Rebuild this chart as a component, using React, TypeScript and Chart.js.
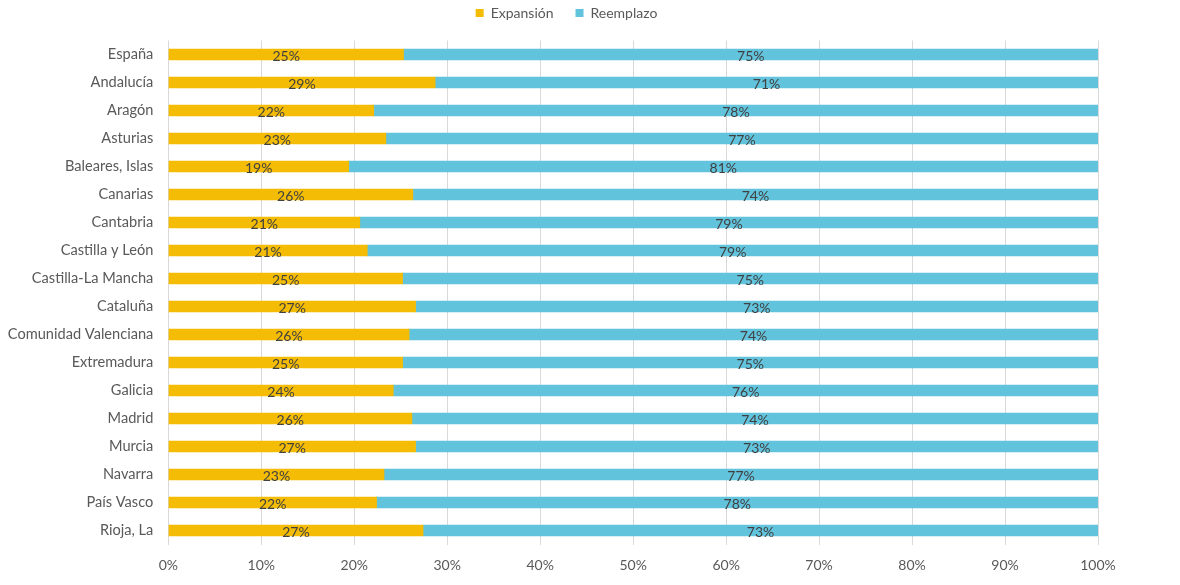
import React, { useEffect, useRef } from "react";
import { Chart, registerables } from "chart.js";

Chart.register(...registerables);

const categories = [
  "España",
  "Andalucía",
  "Aragón",
  "Asturias",
  "Baleares, Islas",
  "Canarias",
  "Cantabria",
  "Castilla y León",
  "Castilla-La Mancha",
  "Cataluña",
  "Comunidad Valenciana",
  "Extremadura",
  "Galicia",
  "Madrid",
  "Murcia",
  "Navarra",
  "País Vasco",
  "Rioja, La",
];

const expansion = [25.3, 28.7, 22.1, 23.4, 19.4, 26.3, 20.6, 21.4, 25.2, 26.6, 25.9, 25.2, 24.2, 26.2, 26.6, 23.2, 22.4, 27.4];
const reemplazo = [74.7, 71.3, 77.9, 76.6, 80.6, 73.7, 79.4, 78.6, 74.8, 73.4, 74.1, 74.8, 75.8, 73.8, 73.4, 76.8, 77.6, 72.6];

const seriesNames = ["Expansión", "Reemplazo"];
const xTicks = [0, 10, 20, 30, 40, 50, 60, 70, 80, 90, 100];

const FONT = "Lato";
const YELLOW = "#F4BC05";
const BLUE = "#62C3DD";

const legendSpacer = {
  id: "legendSpacer",
  beforeInit(chart: any) {
    const legend = chart.legend;
    if (!legend) return;
    const origFit = legend.fit;
    legend.fit = function () {
      origFit.call(this);
      this.height = 56.5;
    };
  },
  afterLayout(chart: any) {
    const legend = chart.legend;
    if (!legend) return;
    legend.left = 35;
    legend.width = legend.right - legend.left;
  },
};

const dataLabels = {
  id: "dataLabels",
  afterDatasetsDraw(chart: any) {
    const ctx = chart.ctx;
    ctx.save();
    ctx.font = `14px ${FONT}`;
    ctx.fillStyle = "#404040";
    ctx.textAlign = "center";
    ctx.textBaseline = "middle";
    chart.data.datasets.forEach((ds: any, di: number) => {
      const meta = chart.getDatasetMeta(di);
      meta.data.forEach((bar: any, i: number) => {
        const v = ds.data[i];
        const cx = (bar.x + bar.base) / 2;
        ctx.fillText(Math.round(v) + "%", cx, bar.y + 1.5);
      });
    });
    ctx.restore();
  },
};

export default function App() {
  const ref = useRef<HTMLCanvasElement | null>(null);

  useEffect(() => {
    if (!ref.current) return;
    const chart = new Chart(ref.current, {
      type: "bar",
      data: {
        labels: categories,
        datasets: [
          { label: seriesNames[0], data: expansion, backgroundColor: YELLOW, barThickness: 11 },
          { label: seriesNames[1], data: reemplazo, backgroundColor: BLUE, barThickness: 11 },
        ],
      },
      options: {
        indexAxis: "y",
        animation: false,
        responsive: true,
        maintainAspectRatio: false,
        devicePixelRatio: 1,
        layout: { padding: { top: -16, right: 82, bottom: 0, left: 0 } },
        plugins: {
          legend: {
            position: "top",
            align: "center",
            labels: {
              boxWidth: 8,
              boxHeight: 8,
              padding: 22,
              color: "#595959",
              font: { family: FONT, size: 14 },
            },
          },
          tooltip: { enabled: false },
        },
        scales: {
          x: {
            stacked: true,
            min: 0,
            max: 100,
            afterBuildTicks: (scale: any) => {
              scale.ticks = xTicks.map((v) => ({ value: v }));
            },
            afterFit: (scale: any) => {
              scale.height = 40.5;
            },
            ticks: {
              callback: (v: any) => v + "%",
              color: "#595959",
              font: { family: FONT, size: 14 },
              padding: 12.5,
              maxRotation: 0,
            },
            grid: { color: "#D9D9D9", lineWidth: 1, drawTicks: false },
            border: { display: false },
          },
          y: {
            stacked: true,
            afterFit: (scale: any) => {
              scale.width = 168.3;
            },
            ticks: {
              color: "#595959",
              font: { family: FONT, size: 14.6 },
              padding: 15,
              autoSkip: false,
            },
            grid: { display: false, drawTicks: false },
            border: { display: false },
          },
        },
      },
      plugins: [legendSpacer, dataLabels],
    });
    return () => chart.destroy();
  }, []);

  return (
    <div style={{ position: "fixed", left: 0, top: 0, width: 1180, height: 585, background: "#fff" }}>
      <canvas ref={ref} />
    </div>
  );
}
